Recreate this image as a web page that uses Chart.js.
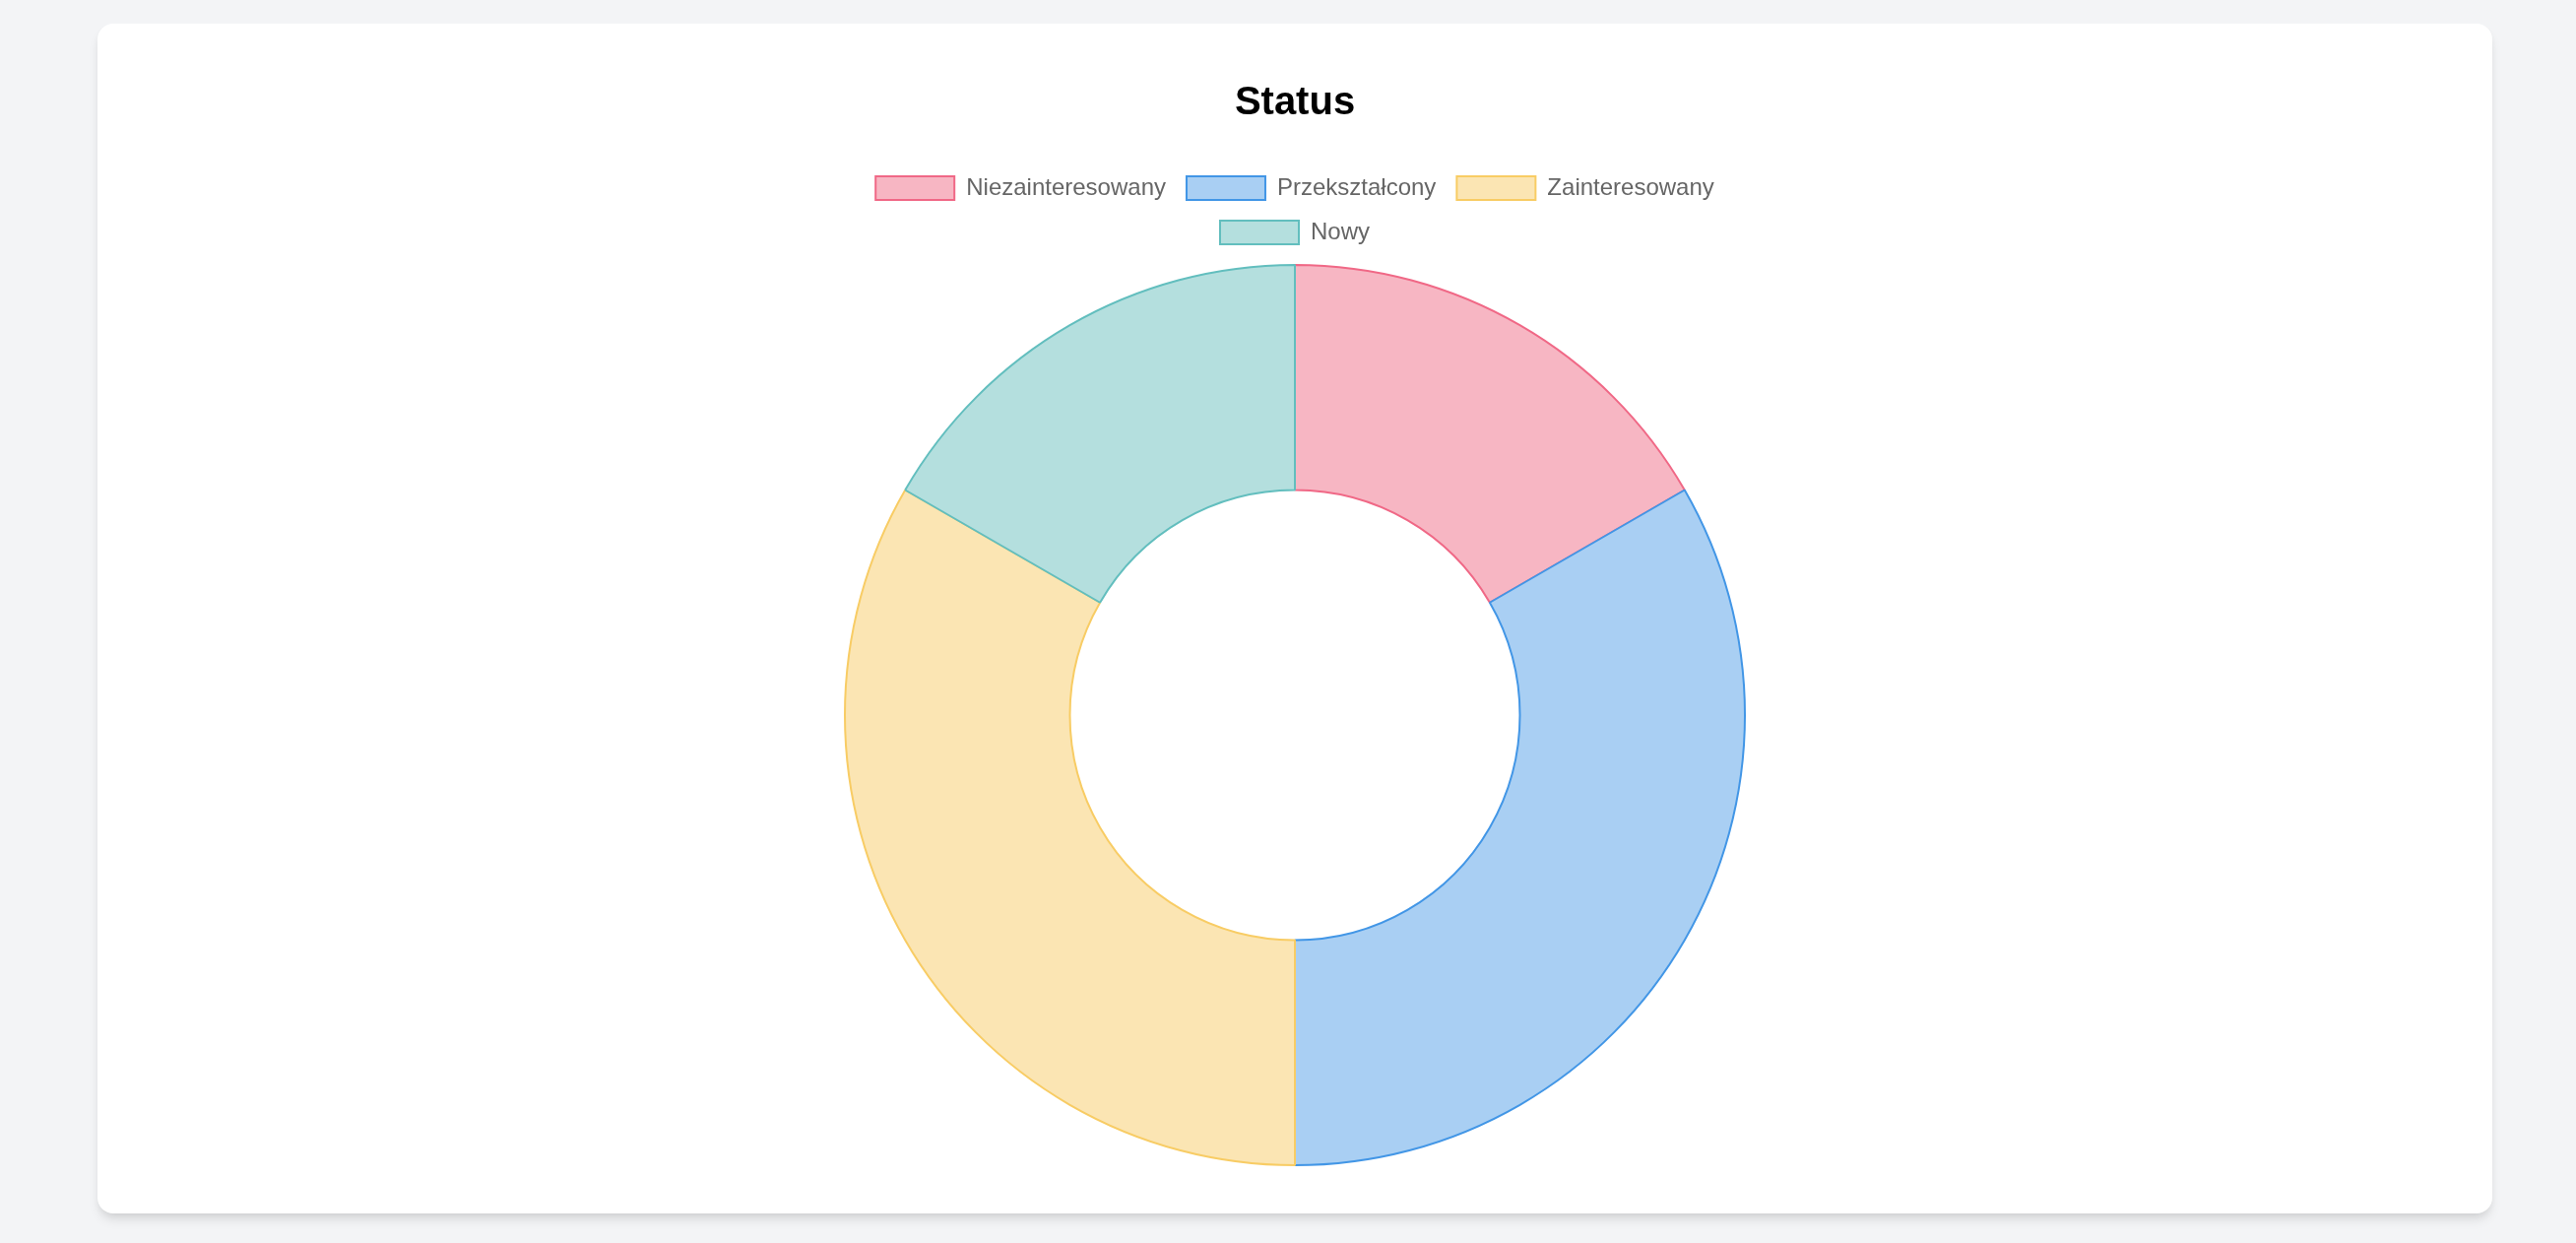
<!DOCTYPE html>
<html>
<head>
<meta charset="utf-8">
<script src="https://cdn.jsdelivr.net/npm/chart.js@4"></script>
<style>
  html, body { margin: 0; padding: 0; background: #f3f4f6; width: 2616px; height: 1262px; overflow: hidden; }
  .card {
    position: absolute; left: 99px; top: 24px; width: 2432px; height: 1208px;
    background: #fff; border-radius: 16px; box-sizing: border-box; padding: 48px;
    box-shadow: 0 8px 12px -2px rgba(0,0,0,0.1), 0 4px 8px -4px rgba(0,0,0,0.1);
  }
  .wrap { position: relative; width: 1000px; height: 1112px; margin: 0 auto; }
</style>
</head>
<body>
<div class="card"><div class="wrap"><canvas id="c"></canvas></div></div>
<script>
const chartTitle = 'Status';
const categories = ['Niezainteresowany', 'Przekształcony', 'Zainteresowany', 'Nowy'];
const values = [1, 2, 2, 1];
const fillColors = ['#f7b6c3', '#a9cff3', '#fbe5b3', '#b4dfde'];
const borderColors = ['rgb(240, 104, 134)', 'rgb(66, 150, 230)', 'rgb(248, 204, 100)', 'rgb(98, 190, 190)'];

const legendGap = {
  id: 'legendGap',
  beforeInit(chart) {
    const origFit = chart.legend.fit;
    chart.legend.fit = function () {
      origFit.call(this);
      this.height += 10;
    };
  }
};

new Chart(document.getElementById('c'), {
  type: 'doughnut',
  data: {
    labels: categories,
    datasets: [{
      data: values,
      backgroundColor: fillColors,
      borderColor: borderColors,
      borderWidth: 2
    }]
  },
  plugins: [legendGap],
  options: {
    responsive: true,
    maintainAspectRatio: false,
    animation: false,
    cutout: '50%',
    layout: { padding: 0 },
    plugins: {
      title: {
        display: true,
        text: chartTitle,
        color: '#000',
        font: { size: 40, weight: 'bold', family: "'Helvetica Neue', 'Helvetica', 'Arial', sans-serif" },
        padding: { top: 9, bottom: 29 }
      },
      legend: {
        display: true,
        position: 'top',
        labels: {
          color: '#666',
          font: { size: 24 },
          boxWidth: 80,
          boxHeight: 24,
          padding: 21
        }
      },
      tooltip: { enabled: false }
    }
  }
});
</script>
</body>
</html>
